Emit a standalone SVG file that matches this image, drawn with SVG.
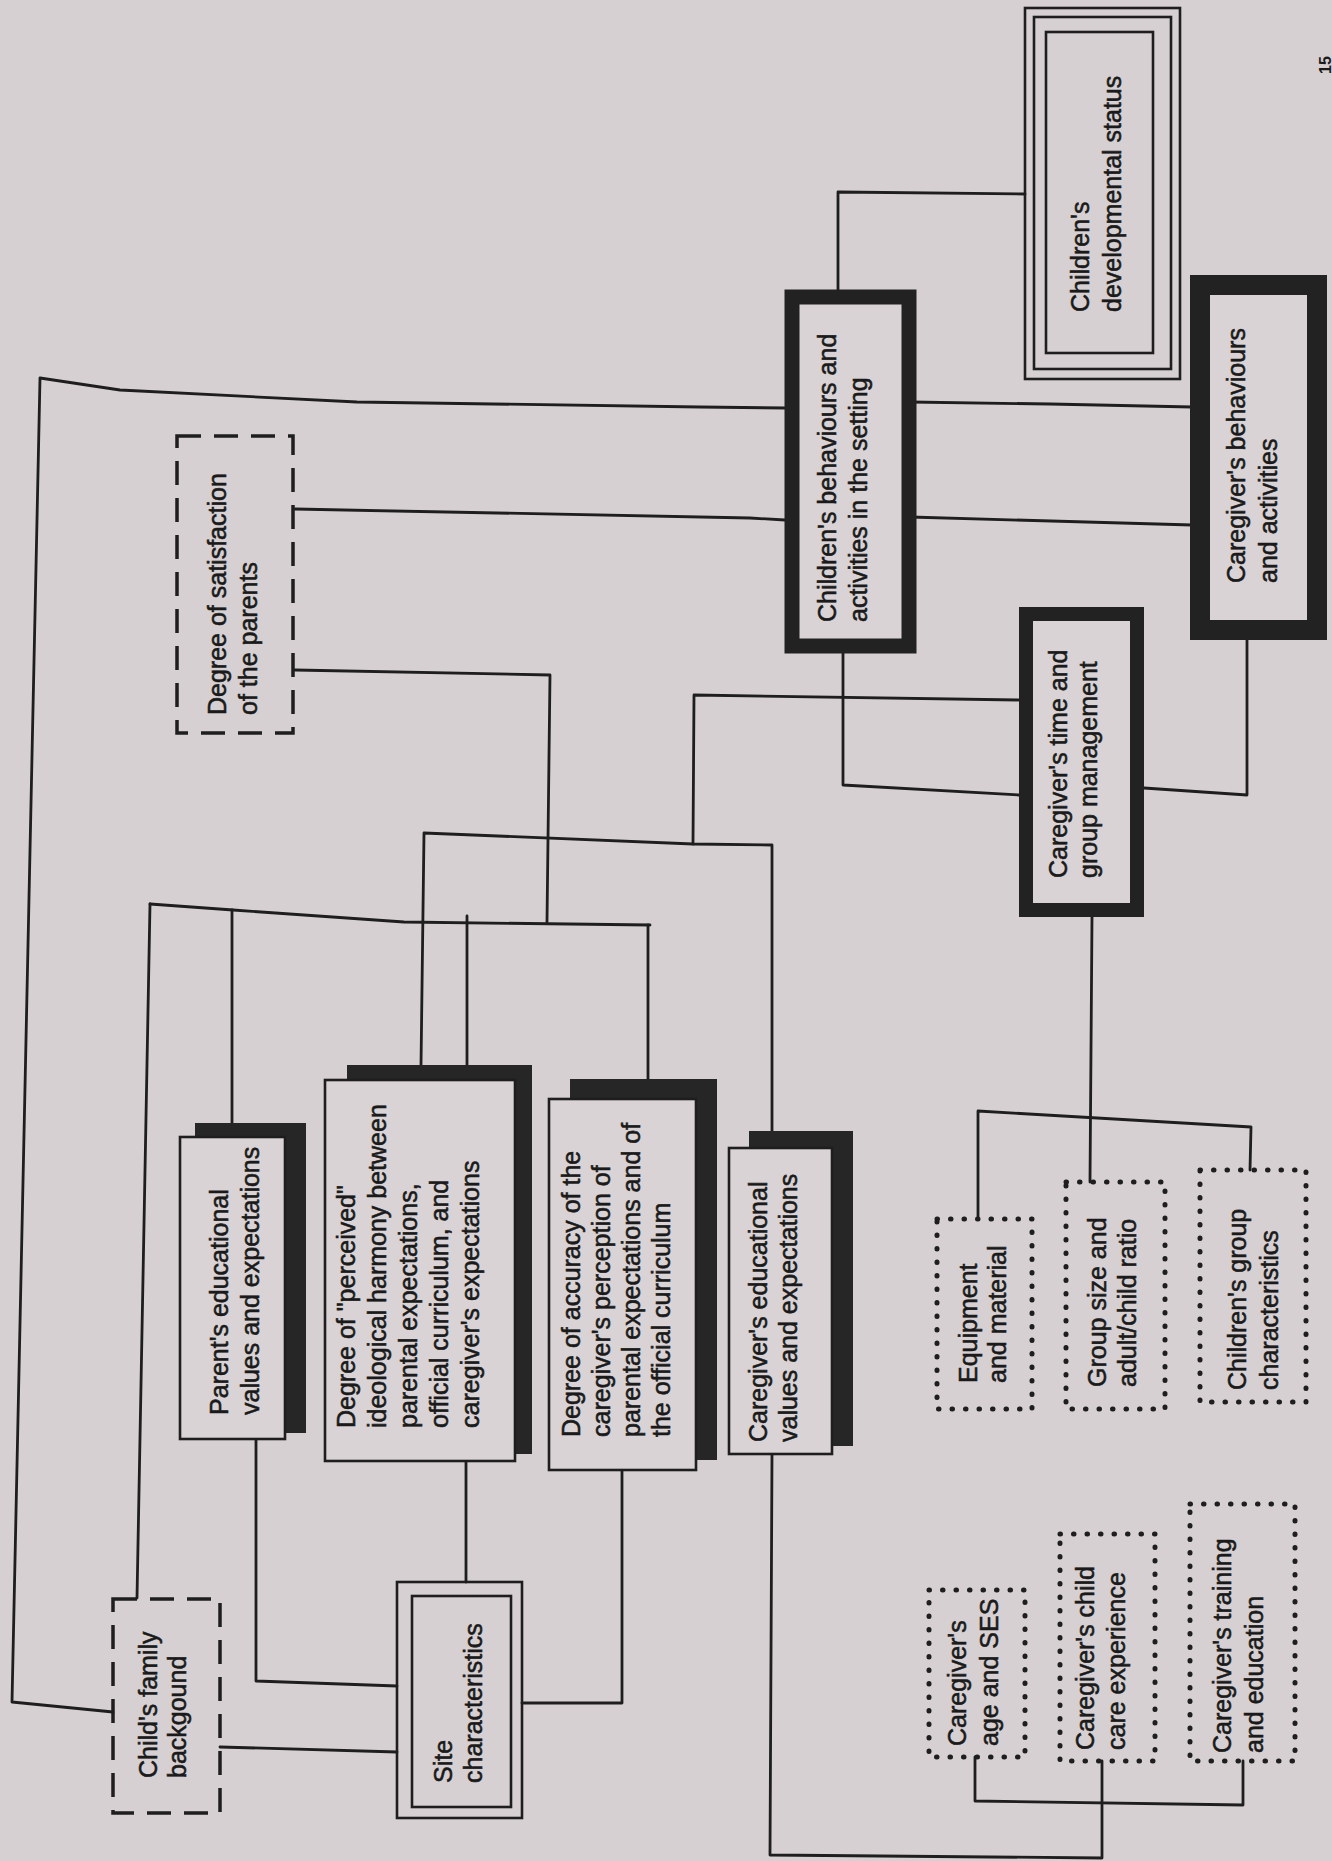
<svg xmlns="http://www.w3.org/2000/svg" width="1332" height="1861" viewBox="0 0 1332 1861">
<style>
.bg{fill:#d6d0d3}
.ln{fill:none;stroke:#1e1e1e;stroke-width:2.8;stroke-linejoin:round;stroke-linecap:round}
.thin{fill:none;stroke:#1e1e1e;stroke-width:2.6}
.thick{fill:#d9d3d6;stroke:#222}
.dash{fill:none;stroke:#1e1e1e;stroke-width:3.5;stroke-dasharray:24 13}
.dot{fill:none;stroke:#1e1e1e;stroke-width:5;stroke-dasharray:0.5 13;stroke-linecap:round}
.back{fill:#262626;stroke:#262626;stroke-width:2}
.front{fill:#d9d3d6;stroke:#1e1e1e;stroke-width:2.6}
.t{font-family:"Liberation Sans",Arial,sans-serif;font-size:25px;fill:#1a1a1a;stroke:#1a1a1a;stroke-width:0.55}
.pg{font-family:"Liberation Sans",Arial,sans-serif;font-size:16px;font-weight:bold;fill:#1a1a1a}
</style>
<rect class="bg" x="0" y="0" width="1332" height="1861"/>

<g id="connectors">
  <path class="ln" d="M838,292 L838,192 L1025,194"/>
  <path class="ln" d="M785,408 L700,407 L357,402 L120,390 L40,378 L12,1702 L113,1712"/>
  <path class="ln" d="M910,402 L1050,404 L1192,407"/>
  <path class="ln" d="M295,509 L750,518 L785,520"/>
  <path class="ln" d="M910,517 L1192,525"/>
  <path class="ln" d="M295,670 L550,675 L547,922"/>
  <path class="ln" d="M150,904 L233,910 L404,922 L650,925"/>
  <path class="ln" d="M150,904 L137,1598"/>
  <path class="ln" d="M232,910 L232,1124"/>
  <path class="ln" d="M467,916 L467,1066"/>
  <path class="ln" d="M648,925 L648,1080"/>
  <path class="ln" d="M421,1066 L424,833 L693,844 L772,845 L772,1132"/>
  <path class="ln" d="M693,844 L694,695 L1019,700"/>
  <path class="ln" d="M843,653 L843,785 L1019,795"/>
  <path class="ln" d="M1144,788 L1247,795 L1247,640"/>
  <path class="ln" d="M1092,917 L1090,1182"/>
  <path class="ln" d="M978,1219 L978,1111 L1251,1127 L1250,1170"/>
  <path class="ln" d="M975,1757 L975,1801 L1243,1805 L1243,1761"/>
  <path class="ln" d="M1102,1761 L1102,1858 L770,1855 L772,1454"/>
  <path class="ln" d="M256,1439 L256,1681 L397,1686"/>
  <path class="ln" d="M220,1747 L397,1752"/>
  <path class="ln" d="M466,1461 L466,1582"/>
  <path class="ln" d="M622,1470 L622,1703 L522,1703"/>
</g>

<g id="dev-status">
  <rect class="thin" x="1025" y="8" width="155" height="371"/>
  <rect class="thin" x="1034" y="17" width="137" height="352"/>
  <rect class="thin" x="1046" y="32" width="107" height="321"/>
  <text class="t" transform="translate(1089,312) rotate(-90)"><tspan x="0" y="0">Children's</tspan><tspan x="0" y="32">developmental status</tspan></text>
</g>

<g id="children-behaviours">
  <rect class="thick" x="792" y="297" width="117" height="349" stroke-width="15"/>
  <text class="t" transform="translate(836,622) rotate(-90)"><tspan x="0" y="0">Children's behaviours and</tspan><tspan x="0" y="31">activities in the setting</tspan></text>
</g>

<g id="caregiver-behaviours">
  <rect class="thick" x="1200" y="285" width="117" height="345" stroke-width="20"/>
  <text class="t" transform="translate(1245,583) rotate(-90)"><tspan x="0" y="0">Caregiver's behaviours</tspan><tspan x="0" y="32">and activities</tspan></text>
</g>

<g id="caregiver-time">
  <rect class="thick" x="1026" y="614" width="111" height="296" stroke-width="14"/>
  <text class="t" transform="translate(1067,878) rotate(-90)"><tspan x="0" y="0">Caregiver's time and</tspan><tspan x="0" y="30">group management</tspan></text>
</g>

<g id="satisfaction">
  <rect class="dash" x="177" y="436" width="116" height="297"/>
  <text class="t" transform="translate(226,715) rotate(-90)"><tspan x="0" y="0">Degree of satisfaction</tspan><tspan x="0" y="31">of the parents</tspan></text>
</g>

<g id="family-background">
  <rect class="dash" x="113" y="1599" width="107" height="214"/>
  <text class="t" transform="translate(157,1778) rotate(-90)"><tspan x="0" y="0">Child's family</tspan><tspan x="0" y="29">backgound</tspan></text>
</g>

<g id="parent-values">
  <rect class="back" x="196" y="1124" width="109" height="308"/>
  <rect class="front" x="180" y="1137" width="105" height="302"/>
  <text class="t" transform="translate(228,1415) rotate(-90)"><tspan x="0" y="0">Parent's educational</tspan><tspan x="0" y="31">values and expectations</tspan></text>
</g>

<g id="ideological-harmony">
  <rect class="back" x="348" y="1066" width="183" height="387"/>
  <rect class="front" x="325" y="1080" width="190" height="381"/>
  <text class="t" transform="translate(355,1428) rotate(-90)"><tspan x="0" y="0">Degree of "perceived"</tspan><tspan x="0" y="31">ideological harmony between</tspan><tspan x="0" y="62">parental expectations,</tspan><tspan x="0" y="93">official curriculum, and</tspan><tspan x="0" y="124">caregiver's expectations</tspan></text>
</g>

<g id="perception-accuracy">
  <rect class="back" x="571" y="1080" width="145" height="379"/>
  <rect class="front" x="549" y="1099" width="147" height="371"/>
  <text class="t" transform="translate(580,1437) rotate(-90)"><tspan x="0" y="0">Degree of accuracy of the</tspan><tspan x="0" y="30">caregiver's perception of</tspan><tspan x="0" y="60">parental expectations and of</tspan><tspan x="0" y="90">the official curriculum</tspan></text>
</g>

<g id="caregiver-values">
  <rect class="back" x="750" y="1132" width="102" height="313"/>
  <rect class="front" x="729" y="1148" width="103" height="306"/>
  <text class="t" transform="translate(767,1442) rotate(-90)"><tspan x="0" y="0">Caregiver's educational</tspan><tspan x="0" y="30">values and expectations</tspan></text>
</g>

<g id="site">
  <rect class="thin" x="397" y="1582" width="125" height="236"/>
  <rect class="thin" x="412" y="1596" width="99" height="211"/>
  <text class="t" transform="translate(452,1783) rotate(-90)"><tspan x="0" y="0">Site</tspan><tspan x="0" y="30">characteristics</tspan></text>
</g>

<g id="equipment">
  <rect class="dot" x="937" y="1219" width="95" height="190"/>
  <text class="t" transform="translate(977,1383) rotate(-90)"><tspan x="0" y="0">Equipment</tspan><tspan x="0" y="29">and material</tspan></text>
</g>

<g id="group-size">
  <rect class="dot" x="1066" y="1182" width="99" height="227"/>
  <text class="t" transform="translate(1106,1387) rotate(-90)"><tspan x="0" y="0">Group size and</tspan><tspan x="0" y="30">adult/child ratio</tspan></text>
</g>

<g id="children-group">
  <rect class="dot" x="1200" y="1170" width="106" height="232"/>
  <text class="t" transform="translate(1246,1390) rotate(-90)"><tspan x="0" y="0">Children's group</tspan><tspan x="0" y="32">characteristics</tspan></text>
</g>

<g id="age-ses">
  <rect class="dot" x="929" y="1590" width="96" height="167"/>
  <text class="t" transform="translate(966,1746) rotate(-90)"><tspan x="0" y="0">Caregiver's</tspan><tspan x="0" y="32">age and SES</tspan></text>
</g>

<g id="child-care-experience">
  <rect class="dot" x="1060" y="1534" width="95" height="227"/>
  <text class="t" transform="translate(1094,1750) rotate(-90)"><tspan x="0" y="0">Caregiver's child</tspan><tspan x="0" y="31">care experience</tspan></text>
</g>

<g id="training">
  <rect class="dot" x="1190" y="1504" width="105" height="257"/>
  <text class="t" transform="translate(1231,1753) rotate(-90)"><tspan x="0" y="0">Caregiver's training</tspan><tspan x="0" y="32">and education</tspan></text>
</g>

<text class="pg" transform="translate(1331,74) rotate(-90)">15</text>
</svg>
